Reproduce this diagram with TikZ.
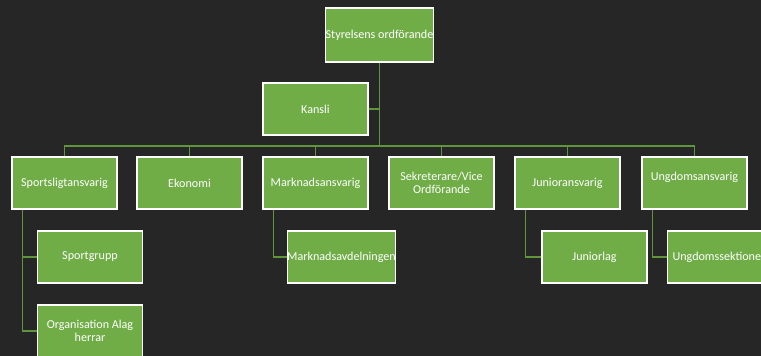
\documentclass[tikz,border=0pt]{standalone}
\usepackage{fontspec}
\setmainfont{Carlito}
\usetikzlibrary{backgrounds}
\definecolor{bg}{HTML}{262626}
\definecolor{boxgreen}{HTML}{70AD47}
\definecolor{linegreen}{HTML}{5F963C}
\begin{document}
\begin{tikzpicture}[x=1pt,y=-1pt,
  orgbox/.style={draw=white, line width=1.3pt, fill=boxgreen, text=white,
    minimum width=105pt, minimum height=52pt, inner sep=0pt, align=center,
    font=\fontsize{12.1}{13}\selectfont},
  conn/.style={draw=linegreen, line width=1.1pt}]
\useasboundingbox (0,0) rectangle (761,356);
\node[orgbox, minimum height=54pt] (top) at (379.5,35) {Styrelsens ordförande};
\node[orgbox] (kansli) at (315.5,109) {Kansli};
\node[orgbox] (spl) at (64.5,183) {Sportsligtansvarig};
\node[orgbox] (eko) at (189.5,183) {Ekonomi};
\node[orgbox] (mark) at (315.5,183) {Marknadsansvarig};
\node[orgbox] (sek) at (441.5,183) {Sekreterare/Vice\\Ordförande};
\node[orgbox] (jun) at (567.5,183) {Junioransvarig};
\node[orgbox] (ung) at (694.5,183) {Ungdomsansvarig\\\mbox{}};
\node[orgbox] (sg) at (90,257) {Sportgrupp};
\node[orgbox] (org) at (90,331) {Organisation Alag\\herrar};
\node[orgbox] (mav) at (341.5,257) {Marknadsavdelningen};
\node[orgbox] (jl) at (594.5,257) {Juniorlag};
\node[orgbox] (us) at (720,257) {Ungdomssektionen};
\coordinate (bus) at (379.5,146);
\begin{scope}[on background layer]
\fill[bg] (0,0) rectangle (761,356);
\draw[conn] (top.south) -- (bus);
\draw[conn] (kansli.east) -- (kansli.east -| top.south);
\foreach \n in {spl,eko,mark,sek,jun,ung}{
  \draw[conn] (\n.north) |- (bus);
}
\draw[conn] ([xshift=11pt]spl.south west) |- (sg.west);
\draw[conn] ([xshift=11pt]spl.south west) |- (org.west);
\draw[conn] ([xshift=11pt]mark.south west) |- (mav.west);
\draw[conn] ([xshift=11pt]jun.south west) |- (jl.west);
\draw[conn] ([xshift=11pt]ung.south west) |- (us.west);
\end{scope}
\end{tikzpicture}
\end{document}
